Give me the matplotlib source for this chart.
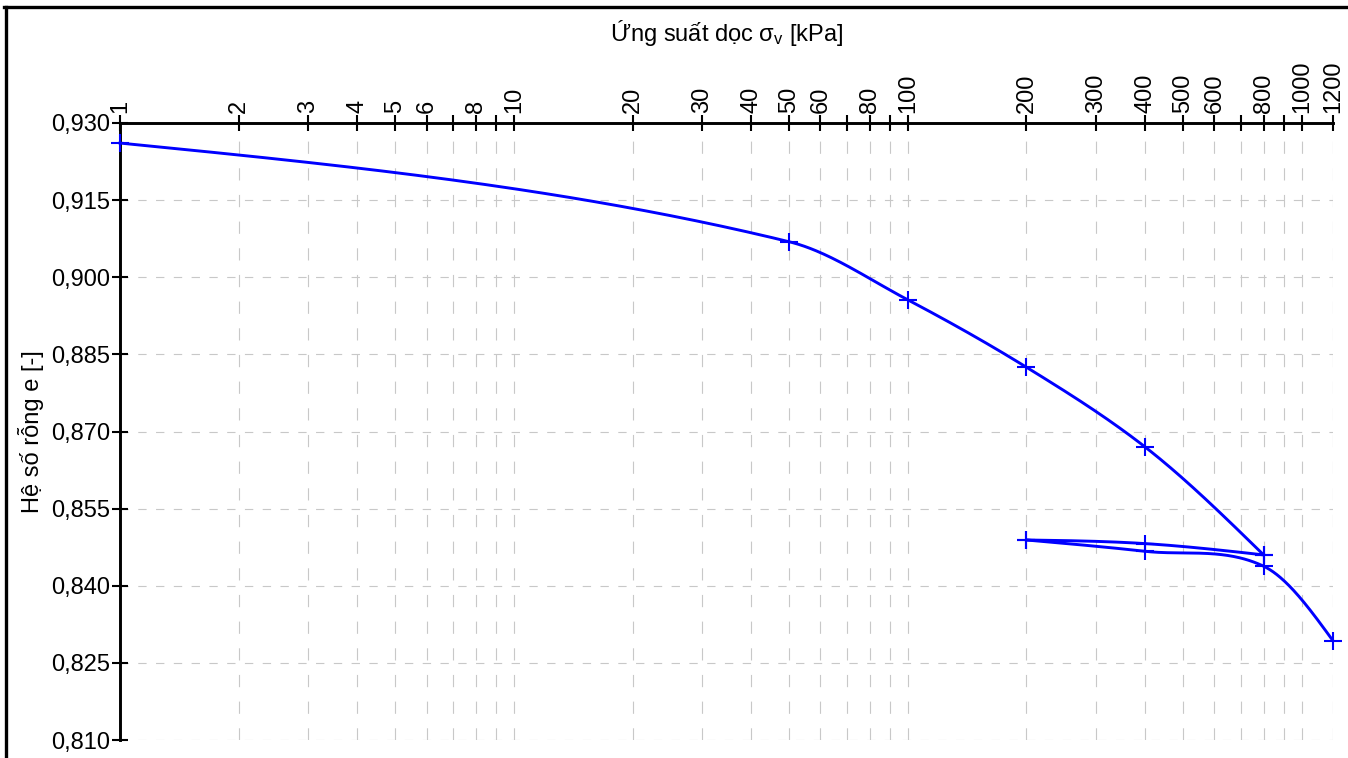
"""
Đường cong nén lún e - log(σv) từ thí nghiệm nén cố kết
"""

import matplotlib
matplotlib.use('Agg')
import matplotlib.pyplot as plt
import numpy as np
from matplotlib.ticker import FixedLocator, FuncFormatter, NullLocator
from matplotlib.lines import Line2D

# Nhánh gia tải
ung_suat_gia_tai = [1, 50, 100, 200, 400, 800]
e_gia_tai = [0.9261, 0.9069, 0.8956, 0.8825, 0.8670, 0.8460]

# Nhánh dỡ tải
ung_suat_do_tai = [800, 400, 200]
e_do_tai = [0.8460, 0.8482, 0.8489]

# Nhánh tải lại
ung_suat_tai_lai = [200, 400, 800, 1200]
e_tai_lai = [0.8489, 0.8467, 0.8438, 0.8293]

# Vạch chia trục hoành
vach_x = [1, 2, 3, 4, 5, 6, 7, 8, 9, 10, 20, 30, 40, 50, 60, 70, 80, 90, 100,
          200, 300, 400, 500, 600, 700, 800, 900, 1000, 1200]
nhan_an = [7, 9, 70, 90, 700, 900]
vach_y = [0.810, 0.825, 0.840, 0.855, 0.870, 0.885, 0.900, 0.915, 0.930]

XANH = '#0000ff'
CO_CHU = 17


def duong_cong_hermite(x, y, kieu='trung_tam', so_diem=80):
    """Nội suy Hermite bậc ba trên trục log (x tăng dần)"""
    x = np.asarray(x, float)
    y = np.asarray(y, float)
    h = np.diff(x)
    d = np.diff(y) / h
    n = len(x)
    m = np.zeros(n)
    for i in range(1, n - 1):
        tt = (y[i + 1] - y[i - 1]) / (x[i + 1] - x[i - 1])
        if kieu == 'dieu_hoa':
            # trung bình điều hòa có trọng số (kiểu PCHIP), làm mềm với sai phân trung tâm
            w1 = 2 * h[i] + h[i - 1]
            w2 = h[i] + 2 * h[i - 1]
            m[i] = 0.75 * (w1 + w2) / (w1 / d[i - 1] + w2 / d[i]) + 0.25 * tt
        else:
            m[i] = tt
    # điều kiện biên tự nhiên
    m[0] = (3 * d[0] - m[1]) / 2
    m[-1] = (3 * d[-1] - m[-2]) / 2

    xs_all, ys_all = [], []
    for k in range(n - 1):
        t = np.linspace(0, 1, so_diem)
        h00 = 2 * t ** 3 - 3 * t ** 2 + 1
        h10 = t ** 3 - 2 * t ** 2 + t
        h01 = -2 * t ** 3 + 3 * t ** 2
        h11 = t ** 3 - t ** 2
        xs_all.append(x[k] + t * h[k])
        ys_all.append(h00 * y[k] + h10 * h[k] * m[k] + h01 * y[k + 1] + h11 * h[k] * m[k + 1])
    return np.concatenate(xs_all), np.concatenate(ys_all)


def ve_nhanh(ax, sigma, e, kieu='trung_tam'):
    thu_tu = np.argsort(sigma)
    lx = np.log10(np.asarray(sigma, float)[thu_tu])
    ly = np.asarray(e, float)[thu_tu]
    xs, ys = duong_cong_hermite(lx, ly, kieu)
    ax.plot(10 ** xs, ys, color=XANH, lw=2.1, clip_on=False, zorder=3)
    ax.plot(sigma, e, linestyle='none', marker='+', ms=12.5, mew=1.5,
            color=XANH, clip_on=False, zorder=4)


plt.rcParams['font.family'] = ['Liberation Sans', 'DejaVu Sans']
plt.rcParams['mathtext.default'] = 'regular'

fig = plt.figure(figsize=(13.48, 7.58), dpi=100)
ax = fig.add_axes([120 / 1348, 18 / 758, 1213 / 1348, 617 / 758])

ax.set_xscale('log')
ax.set_xlim(1, 1200)
ax.set_ylim(0.810, 0.930)

ax.xaxis.set_major_locator(FixedLocator(vach_x))
ax.xaxis.set_minor_locator(NullLocator())
ax.yaxis.set_major_locator(FixedLocator(vach_y))
ax.xaxis.set_major_formatter(FuncFormatter(
    lambda v, p: '' if round(v) in nhan_an else f'{v:g}'))
ax.yaxis.set_major_formatter(FuncFormatter(
    lambda v, p: f'{v:.3f}'.replace('.', ',')))

# Lưới nét đứt
ax.xaxis.grid(True, color='#c8c8c8', lw=0.8, linestyle=(0, (11, 13)), zorder=0)
ax.yaxis.grid(True, color='#c8c8c8', lw=0.8, linestyle=(0, (7.5, 8.5)), zorder=0)

for canh in ['right', 'bottom']:
    ax.spines[canh].set_visible(False)
for canh in ['left', 'top']:
    ax.spines[canh].set_linewidth(2.1)
    ax.spines[canh].set_color('black')

ax.xaxis.tick_top()
ax.xaxis.set_label_position('top')
ax.tick_params(axis='x', which='major', direction='inout', length=11.5,
               width=1.5, pad=1.5, labelsize=CO_CHU, labelrotation=90)
ax.tick_params(axis='y', which='major', direction='inout', length=11.5,
               width=1.5, pad=1.5, labelsize=CO_CHU)

ax.set_xlabel('Ứng suất dọc σ$_{v}$ [kPa]', fontsize=CO_CHU, labelpad=14)
ax.set_ylabel('Hệ số rỗng e [-]', fontsize=CO_CHU, labelpad=5)

ve_nhanh(ax, ung_suat_gia_tai, e_gia_tai, 'dieu_hoa')
ve_nhanh(ax, ung_suat_do_tai, e_do_tai)
ve_nhanh(ax, ung_suat_tai_lai, e_tai_lai)

# Khung viền hình
fig.add_artist(Line2D([5.5 / 1348, 5.5 / 1348], [-0.05, 1 - 7 / 758],
                      transform=fig.transFigure, color='black', lw=2.4))
fig.add_artist(Line2D([4 / 1348, 1.05], [1 - 7 / 758, 1 - 7 / 758],
                      transform=fig.transFigure, color='black', lw=2.4))

fig.savefig('out.png', dpi=100)
